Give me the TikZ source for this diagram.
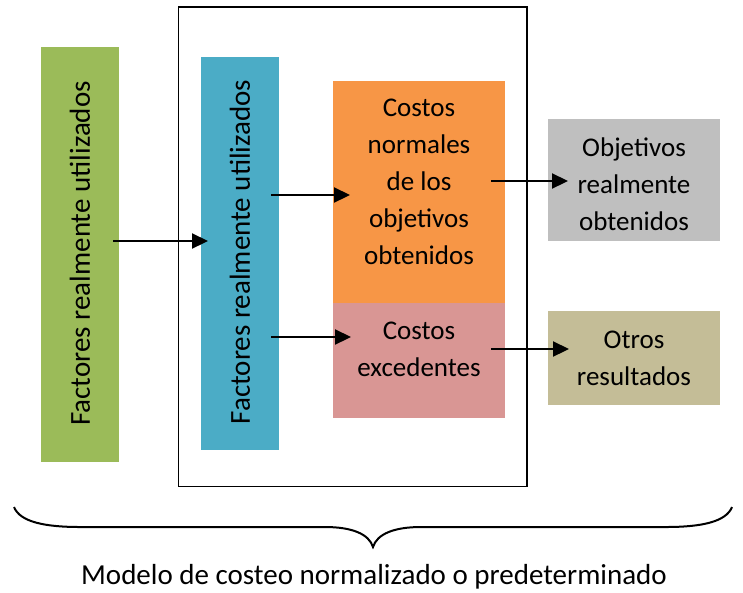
\documentclass[tikz,border=0pt]{standalone}
\usepackage{fontspec}
\setmainfont{Carlito}
\usetikzlibrary{arrows.meta}
\definecolor{cgreen}{HTML}{9BBB59}
\definecolor{cblue}{HTML}{4BACC6}
\definecolor{corange}{HTML}{F79646}
\definecolor{cpink}{HTML}{D99694}
\definecolor{cgray}{HTML}{BFBFBF}
\definecolor{ctan}{HTML}{C4BD97}
\begin{document}
\begin{tikzpicture}[x=1pt,y=-1pt,
  box/.style={inner sep=0pt,outer sep=0pt,draw=none,minimum width=#1},
  txt/.style={font=\fontsize{27}{37}\selectfont,align=center},
  vtxt/.style={font=\fontsize{29}{37}\selectfont,rotate=90,inner sep=0pt},
  arr/.style={line width=2.2pt,-{Triangle[length=16pt,width=15pt]}},
  brace/.style={line width=2pt}]
\useasboundingbox (0,0) rectangle (743,592);
% outer frame
\node[draw,line width=1.8pt,minimum width=348.5pt,minimum height=479.5pt,inner sep=0pt] (outer) at (352.75,246.75) {};
% boxes
\node[box=78pt,fill=cgreen,minimum height=415pt] (green) at (80,254.5) {};
\node[vtxt] (greent) at (80,253.5) {Factores realmente utilizados};
\node[box=78pt,fill=cblue,minimum height=393pt] (blue) at (240,253.5) {};
\node[vtxt] (bluet) at (240,252) {Factores realmente utilizados};
\node[box=172pt,fill=corange,minimum height=222pt] (orange) at (419,192) {};
\node[txt] (oranget) at (419,182) {Costos\\normales\\de los\\objetivos\\obtenidos};
\node[box=172pt,fill=cpink,minimum height=115pt] (pink) at (419,360.5) {};
\node[txt] (pinkt) at (419,349) {Costos\\excedentes};
\node[box=172pt,fill=cgray,minimum height=122pt] (gray) at (634,180) {};
\node[txt] (grayt) at (634,184) {Objetivos\\realmente\\obtenidos};
\node[box=172pt,fill=ctan,minimum height=94pt] (tan) at (634,358) {};
\node[txt] (tant) at (634,358) {Otros\\resultados};
% arrows
\coordinate (a1s) at (113,241); \coordinate (a1e) at (208,241);
\coordinate (a2s) at (271,195); \coordinate (a2e) at (350,195);
\coordinate (a3s) at (271,337); \coordinate (a3e) at (351,337);
\coordinate (a4s) at (491,181); \coordinate (a4e) at (568,181);
\coordinate (a5s) at (491,349); \coordinate (a5e) at (569,349);
\draw[arr] (a1s) -- (a1e);
\draw[arr] (a2s) -- (a2e);
\draw[arr] (a3s) -- (a3e);
\draw[arr] (a4s) -- (a4e);
\draw[arr] (a5s) -- (a5e);
% brace
\coordinate (bl) at (14,507); \coordinate (bm) at (373,547); \coordinate (br) at (732,507);
\draw[brace] (bl) .. controls (20,522) and (45,527) .. (80,527) -- (325,527)
  .. controls (352,527) and (369,534) .. (bm)
  .. controls (377,534) and (394,527) .. (421,527) -- (666,527)
  .. controls (701,527) and (726,522) .. (br);
\node[font=\fontsize{29}{35}\selectfont] (caption) at (374,577) {Modelo de costeo normalizado o predeterminado};
\end{tikzpicture}
\end{document}
